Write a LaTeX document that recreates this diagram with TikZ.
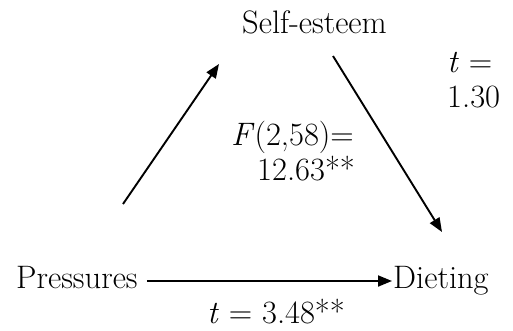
\documentclass[tikz,border=0pt]{standalone}
\usepackage{tikz}
\usetikzlibrary{arrows.meta, positioning, calc}

\begin{document}
\begin{tikzpicture}[
          x=1pt, y=-1pt,
          font=\fontsize{32.5}{38}\selectfont,
          lbl/.style={inner sep=0pt, anchor=base west},
          arrow/.style={-{Triangle[length=14pt, width=11pt]}, line width=1.9pt}
        ]
          \useasboundingbox (0,0) rectangle (513,330);
          \node[lbl] (self) at (242,33) {Self-esteem};
          \node[lbl] (pres) at (16,288) {Pressures};
          \node[lbl] (diet) at (393,288) {Dieting};
          \node[lbl] (tse) at (447,72) {\textit{t} =};
          \node[lbl] (tseval) at (447,107) {1.30};
          \node[lbl] (fval) at (231,145) {\textit{F}(2,58)=};
          \node[lbl] (fnum) at (257,180) {12.63**};
          \node[lbl] (tpd) at (207,323) {\textit{t} = 3.48**};
          % free ends of the slanted paths
          \coordinate (ps) at (123,204);
          \coordinate (pe) at (219,64);
          \coordinate (ss) at (333,56);
          \coordinate (se) at (442,232);
          \draw[arrow] (ps) -- (pe);
          \draw[arrow] (ss) -- (se);
          \draw[arrow, shorten <=9pt, shorten >=1pt] (pres.east |- 0,281) -- (diet.west |- 0,281);
        \end{tikzpicture}
\end{document}
